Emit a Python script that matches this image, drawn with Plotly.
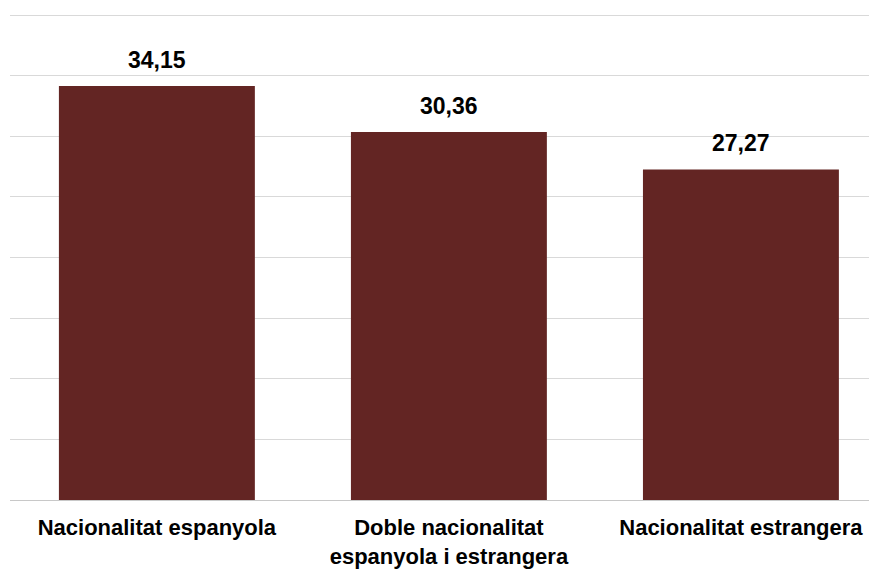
import plotly.graph_objects as go

categories = ["Nacionalitat espanyola", "Doble nacionalitat<br>espanyola i estrangera", "Nacionalitat estrangera"]
values = [34.15, 30.36, 27.27]
value_labels = ["34,15", "30,36", "27,27"]

FONT = "Liberation Sans, Arial, sans-serif"

fig = go.Figure(go.Bar(
    x=categories, y=values,
    marker=dict(color="#632523", line=dict(width=0)),
    hoverinfo="x+y",
))

for c, v, lab in zip(categories, values, value_labels):
    fig.add_annotation(x=c, y=v, text="<b>" + lab + "</b>", showarrow=False,
                       yanchor="bottom", yshift=11,
                       font=dict(family=FONT, size=23, color="#000000"))

fig.update_layout(
    width=869, height=569,
    margin=dict(l=2, r=0, t=1, b=77, autoexpand=False),
    paper_bgcolor="white", plot_bgcolor="white",
    bargap=0.329,
    showlegend=False,
    xaxis=dict(range=[-0.503, 2.466], showgrid=False, zeroline=False, showline=False,
               automargin=False, ticklabelstandoff=12,
               tickfont=dict(family=FONT, size=22, color="#000000"), ticks="",
               tickprefix="<b>", ticksuffix="</b>"),
    yaxis=dict(range=[0, 40.5], dtick=5, showgrid=True, gridcolor="#d9d9d9", gridwidth=1,
               automargin=False,
               showticklabels=False, zeroline=True, zerolinecolor="#c8c8c8", zerolinewidth=1),
)

fig.write_html("out.html")
